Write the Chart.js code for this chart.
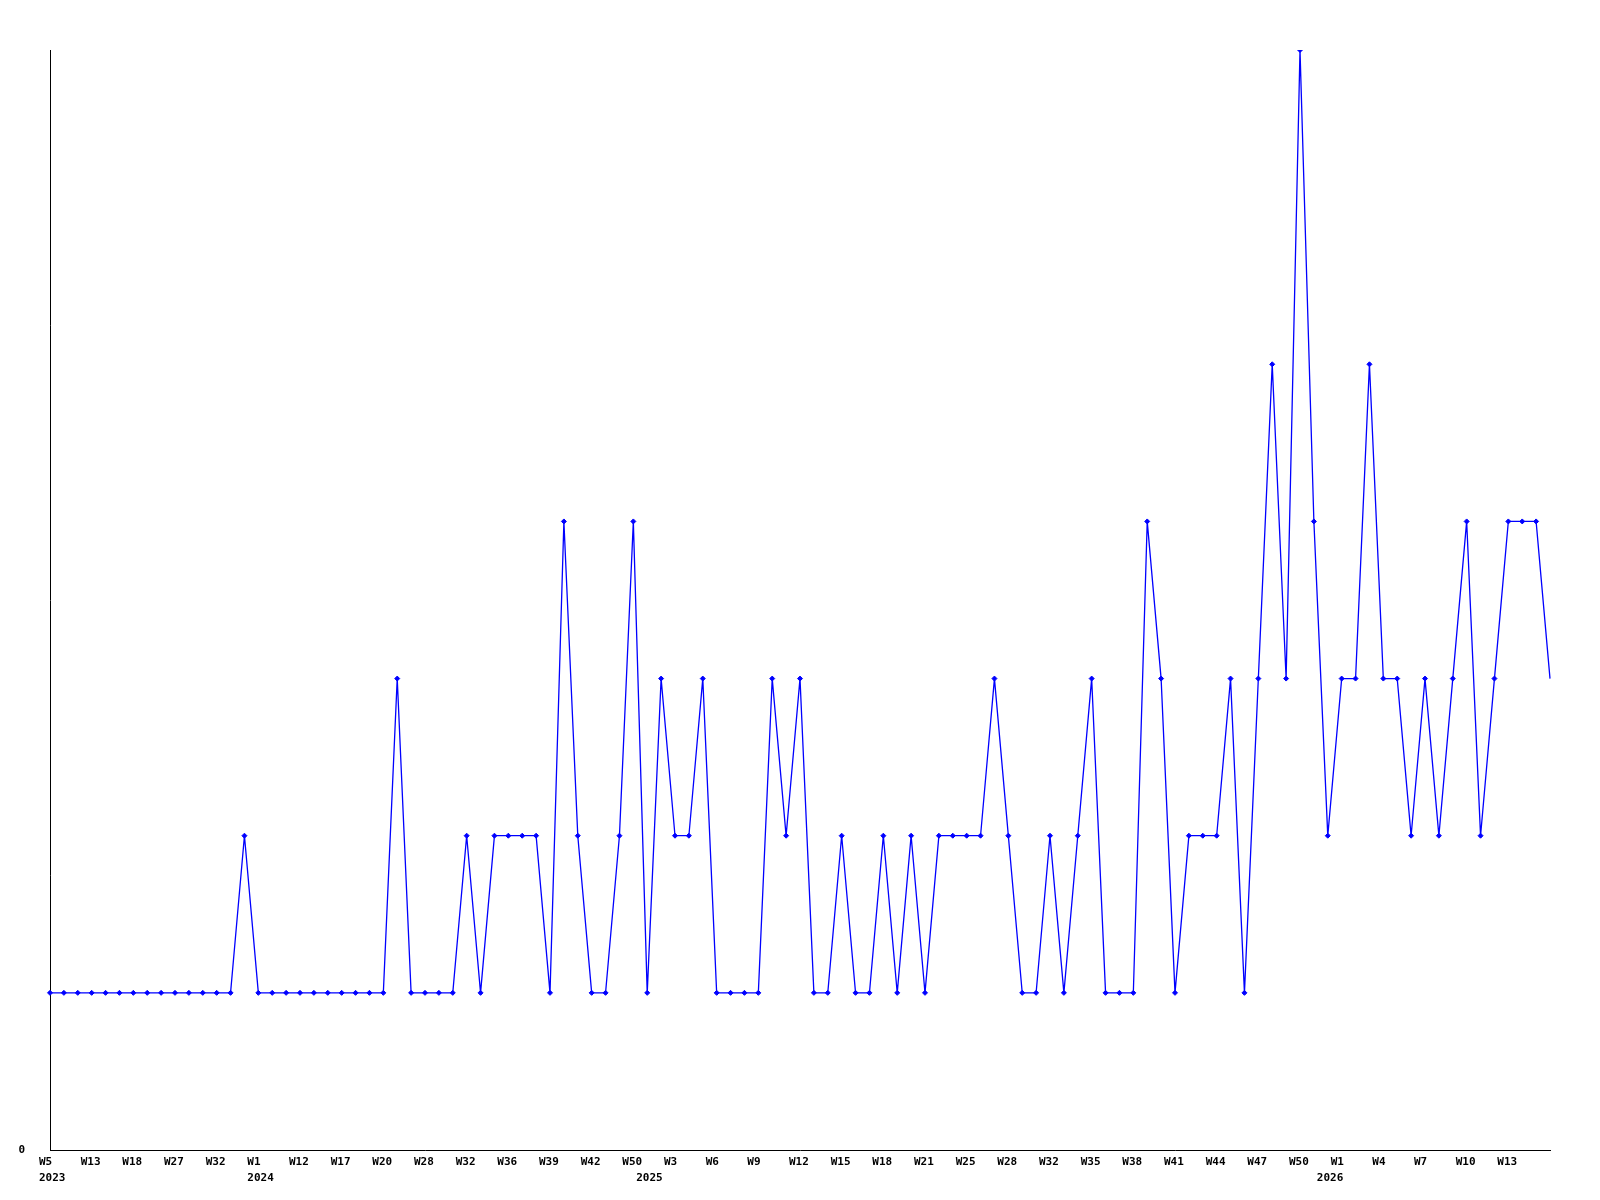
<!DOCTYPE html>
<html>
<head>
<meta charset="utf-8">
<script src="https://cdn.jsdelivr.net/npm/chart.js@4/dist/chart.umd.min.js"></script>
<style>
  html, body { margin: 0; padding: 0; background: #fff; }
  #wrap { width: 1600px; height: 1200px; }
</style>
</head>
<body>
<div id="wrap"><canvas id="chart"></canvas></div>
<script>
// week of each point (only every 3rd one is printed on the axis)
const weeks = [
  'W5', 'W7', 'W10', 'W13', 'W15', 'W16', 'W18', 'W21', 'W24', 'W27', 'W29', 'W30', 'W32', 'W38', 'W45',
  'W1', 'W5', 'W9', 'W12', 'W14', 'W15', 'W17', 'W18', 'W19', 'W20', 'W22', 'W25', 'W28', 'W29', 'W31',
  'W32', 'W34', 'W35', 'W36', 'W37', 'W38', 'W39', 'W40', 'W41', 'W42', 'W44', 'W47', 'W50',
  'W1', 'W2', 'W3', 'W4', 'W5', 'W6', 'W7', 'W8', 'W9', 'W10', 'W11', 'W12', 'W13', 'W14', 'W15', 'W16',
  'W17', 'W18', 'W19', 'W20', 'W21', 'W22', 'W23', 'W25', 'W26', 'W27', 'W28', 'W29', 'W31', 'W32', 'W33',
  'W34', 'W35', 'W36', 'W37', 'W38', 'W39', 'W40', 'W41', 'W42', 'W43', 'W44', 'W45', 'W46', 'W47', 'W48',
  'W49', 'W50', 'W51', 'W52',
  'W1', 'W2', 'W3', 'W4', 'W5', 'W6', 'W7', 'W8', 'W9', 'W10', 'W11', 'W12', 'W13', 'W14', 'W15', 'W16'
];

// where the year row is printed
const yearIndex = [0, 15, 43, 92];
const yearText = ['2023', '2024', '2025', '2026'];

const counts = [
  1, 1, 1, 1, 1, 1, 1, 1, 1, 1, 1, 1, 1, 1, 2,
  1, 1, 1, 1, 1, 1, 1, 1, 1, 1, 3, 1, 1, 1, 1,
  2, 1, 2, 2, 2, 2, 1, 4, 2, 1, 1, 2, 4, 1, 3,
  2, 2, 3, 1, 1, 1, 1, 3, 2, 3, 1, 1, 2, 1, 1,
  2, 1, 2, 1, 2, 2, 2, 2, 3, 2, 1, 1, 2, 1, 2,
  3, 1, 1, 1, 4, 3, 1, 2, 2, 2, 3, 1, 3, 5, 3,
  7, 4, 2, 3, 3, 5, 3, 3, 2, 3, 2, 3, 4, 2, 3,
  4, 4, 4, 3
];

const font = { family: 'DejaVu Sans Mono', size: 11, weight: 'bold', lineHeight: 1.45 };

const ctx = document.getElementById('chart').getContext('2d');
const myChart = new Chart(ctx, {
    type: 'line',
    data: {
        labels: weeks,
        datasets: [
            {
                data: counts,
                borderColor: '#0000ff',
                backgroundColor: '#0000ff',
                borderWidth: 1.3,
                tension: 0,
                fill: false,
                pointStyle: 'rectRot',
                pointRadius: c => c.dataIndex === counts.length - 1 ? 0 : 2.5,
                pointBorderWidth: 1
            }
        ]
    },
    options: {
        responsive: true,
        maintainAspectRatio: false,
        animation: false,
        layout: {
            padding: { top: 50, right: 50, left: 0, bottom: 0 }
        },
        plugins: {
            legend: { display: false },
            tooltip: { enabled: false }
        },
        scales: {
            x: {
                offset: false,
                grid: { display: false, drawTicks: false },
                border: { display: true, color: '#000', width: 1 },
                afterFit: s => { s.height = 50; },
                ticks: {
                    autoSkip: false,
                    maxRotation: 0,
                    minRotation: 0,
                    align: 'start',
                    labelOffset: -11,
                    padding: 4,
                    color: '#000',
                    font: font,
                    callback: (v, i) => {
                        const top = (i % 3 === 0 && i < weeks.length - 1) ? weeks[i] : '';
                        const y = yearIndex.indexOf(i);
                        return y >= 0 ? [top, yearText[y]] : top;
                    }
                }
            },
            y: {
                min: 0,
                max: 7,
                grid: { display: false, drawTicks: false },
                border: { display: true, color: '#000', width: 1 },
                afterFit: s => { s.width = 50; },
                ticks: {
                    stepSize: 1,
                    padding: 25,
                    color: '#000',
                    font: font,
                    callback: v => v === 0 ? '0' : ''
                }
            }
        }
    }
});
</script>
</body>
</html>
